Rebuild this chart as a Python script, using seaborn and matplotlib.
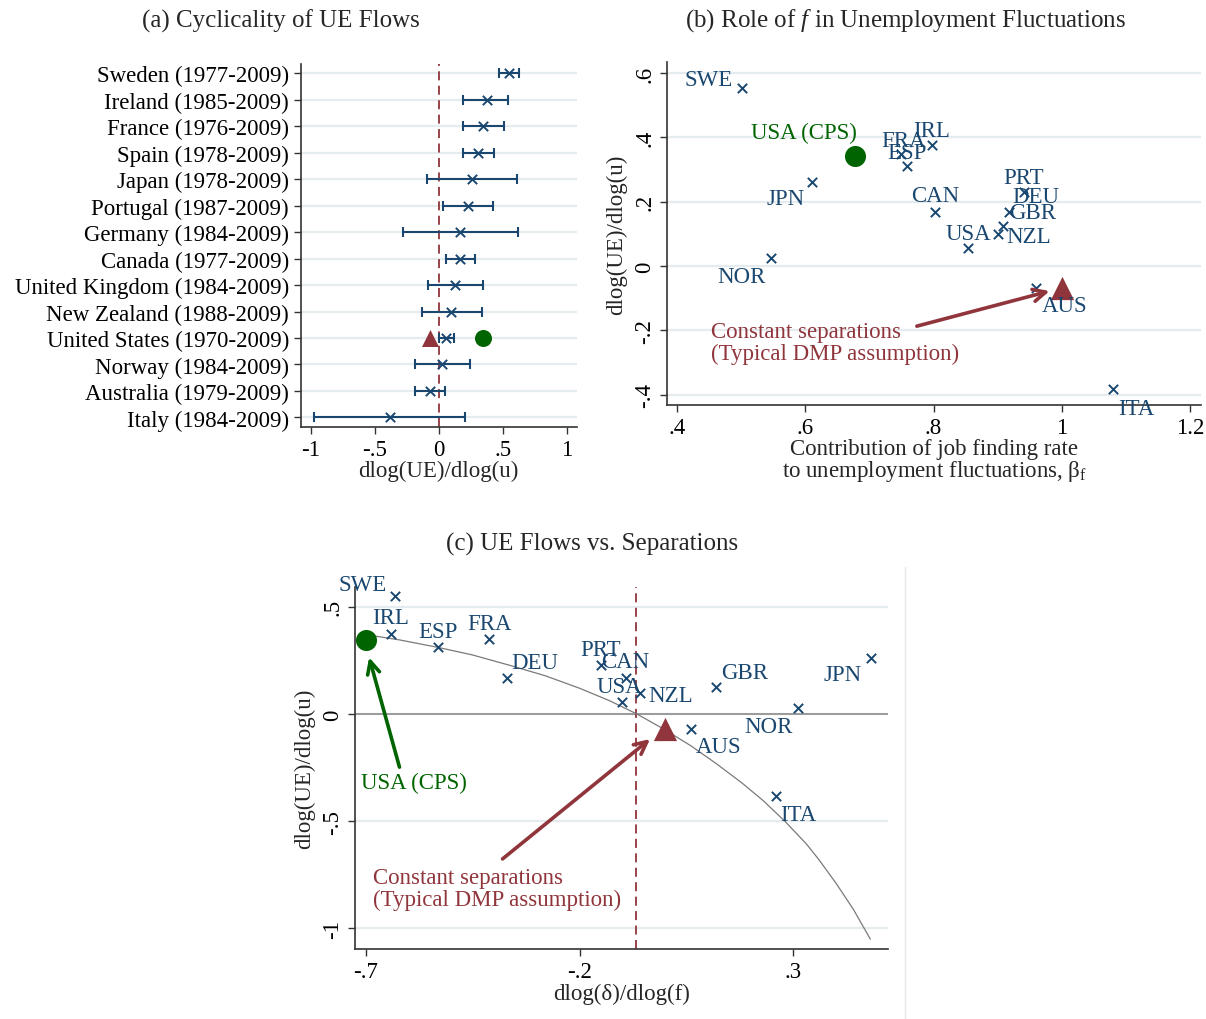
import numpy as np
import pandas as pd
import matplotlib
matplotlib.use("Agg")
import matplotlib.pyplot as plt
import seaborn as sns
from matplotlib.lines import Line2D

# ---------------- data ----------------
countries = ["Sweden (1977-2009)", "Ireland (1985-2009)", "France (1976-2009)",
             "Spain (1978-2009)", "Japan (1978-2009)", "Portugal (1987-2009)",
             "Germany (1984-2009)", "Canada (1977-2009)", "United Kingdom (1984-2009)",
             "New Zealand (1988-2009)", "United States (1970-2009)", "Norway (1984-2009)",
             "Australia (1979-2009)", "Italy (1984-2009)"]
codes = ["SWE", "IRL", "FRA", "ESP", "JPN", "PRT", "DEU", "CAN", "GBR", "NZL",
         "USA", "NOR", "AUS", "ITA"]
ue_coef = [0.552, 0.375, 0.349, 0.310, 0.260, 0.229, 0.169, 0.169, 0.125, 0.099,
           0.055, 0.026, -0.068, -0.383]
ci_low = [0.471, 0.193, 0.193, 0.193, -0.094, 0.031, -0.279, 0.055, -0.086, -0.133,
          0.000, -0.188, -0.188, -0.971]
ci_high = [0.630, 0.544, 0.508, 0.430, 0.615, 0.424, 0.622, 0.286, 0.349, 0.336,
           0.120, 0.245, 0.047, 0.208]
beta_f = [0.501, 0.797, 0.750, 0.758, 0.611, 0.941, 0.917, 0.803, 0.909, 0.901,
          0.854, 0.546, 0.959, 1.080]
dsep = [-0.631, -0.641, -0.411, -0.531, 0.482, -0.150, -0.370, -0.092, 0.120, -0.058,
        -0.101, 0.311, 0.061, 0.260]

usa_cps_ue = 0.343
usa_cps_beta = 0.677
usa_cps_dsep = -0.699
dmp_ue = -0.068
dmp_beta = 1.0
dmp_dsep = 0.0
dmp_vline = -0.068

curve_x = [-0.70, -0.62, -0.53, -0.45, -0.36, -0.28, -0.20, -0.13, -0.066, 0.0,
           0.06, 0.12, 0.18, 0.23, 0.28, 0.33, 0.36, 0.40, 0.44, 0.48]
curve_y = [0.370, 0.345, 0.310, 0.275, 0.225, 0.178, 0.120, 0.062, 0.0, -0.074,
           -0.148, -0.232, -0.322, -0.405, -0.500, -0.605, -0.680, -0.790, -0.910, -1.050]

xt_a = [-1, -0.5, 0, 0.5, 1]
xt_a_lab = ["-1", "-.5", "0", ".5", "1"]
xt_b = [0.4, 0.6, 0.8, 1.0, 1.2]
xt_b_lab = [".4", ".6", ".8", "1", "1.2"]
yt_b = [0.6, 0.4, 0.2, 0.0, -0.2, -0.4]
yt_b_lab = [".6", ".4", ".2", "0", "-.2", "-.4"]
xt_c = [-0.7, -0.2, 0.3]
xt_c_lab = ["-.7", "-.2", ".3"]
yt_c = [0.5, 0.0, -0.5, -1.0]
yt_c_lab = [".5", "0", "-.5", "-1"]

# ---------------- style ----------------
sns.set_theme(style="white")
plt.rcParams["font.family"] = ["Liberation Serif", "DejaVu Serif"]
plt.rcParams["mathtext.fontset"] = "custom"
plt.rcParams["mathtext.rm"] = "Liberation Serif"
plt.rcParams["mathtext.it"] = "Liberation Serif:italic"

NAVY = "#1a476f"
MAROON = "#90353b"
GREEN = "#006400"
GRID = "#e4ecef"
AXC = "#333333"
FS = 16.5
TFS = 18

# label offsets in pixels (dx, dy, ha)
off_b = {"SWE": (-9, 9, "right"), "IRL": (0, 15, "center"), "FRA": (2, 13, "center"),
         "ESP": (0, 14, "center"), "JPN": (-8, -16, "right"), "PRT": (0, 15, "center"),
         "DEU": (4, 15, "left"), "CAN": (0, 16, "center"), "GBR": (6, 13, "left"),
         "NZL": (8, -2, "left"), "USA": (0, 15, "center"), "NOR": (-5, -19, "right"),
         "AUS": (6, -18, "left"), "ITA": (5, -19, "left")}
off_c = {"SWE": (-8, 11, "right"), "IRL": (0, 16, "center"), "FRA": (0, 16, "center"),
         "ESP": (0, 16, "center"), "JPN": (-9, -16, "right"), "PRT": (0, 15, "center"),
         "DEU": (4, 15, "left"), "CAN": (0, 16, "center"), "GBR": (5, 15, "left"),
         "NZL": (8, -3, "left"), "USA": (-3, 16, "center"), "NOR": (-5, -18, "right"),
         "AUS": (5, -18, "left"), "ITA": (4, -18, "left")}

W, H = 1206, 1020
fig = plt.figure(figsize=(W / 100, H / 100), dpi=100)
fig.patch.set_facecolor("white")


def box(l, t, r, b):
    return [l / W, 1 - b / H, (r - l) / W, (b - t) / H]


def style_axes(ax):
    for s in ["top", "right"]:
        ax.spines[s].set_visible(False)
    for s in ["left", "bottom"]:
        ax.spines[s].set_color(AXC)
        ax.spines[s].set_linewidth(1.2)
    ax.tick_params(axis="both", direction="out", length=5, width=1, color=AXC,
                   labelsize=FS, labelcolor="black", left=True, bottom=True)
    ax.set_facecolor("white")


def px2pt(v):
    return v * 0.72


ARROW = "->,head_length=0.45,head_width=0.22"

# ---------------- panel (a) ----------------
ax1 = fig.add_axes(box(300.7, 65, 576.7, 427.7))
style_axes(ax1)
ypos = np.arange(len(countries))
dfa = pd.DataFrame({"coef": ue_coef, "pos": ypos})
for y in ypos:
    ax1.axhline(y, color=GRID, lw=1.6, zorder=0)
ax1.axvline(0, color=MAROON, lw=1.3, ls=(0, (5, 3)), zorder=1)
lo = np.array(ue_coef) - np.array(ci_low)
hi = np.array(ci_high) - np.array(ue_coef)
ax1.errorbar(ue_coef, ypos, xerr=[lo, hi], fmt="none", ecolor=NAVY, elinewidth=1.5,
             capsize=3.6, capthick=1.5, zorder=2)
sns.scatterplot(data=dfa, x="coef", y="pos", marker="x", color=NAVY, s=45,
                linewidth=1.4, ax=ax1, zorder=3, legend=False)
us_i = countries.index("United States (1970-2009)")
ax1.scatter([dmp_ue], [us_i], marker="^", s=150, color=MAROON, zorder=4, linewidths=0)
ax1.scatter([usa_cps_ue], [us_i], marker="o", s=150, color=GREEN, zorder=4, linewidths=0)
ax1.set_xlim(-1.078, 1.078)
ax1.set_ylim(13.35, -0.35)
ax1.set_yticks(ypos)
ax1.set_yticklabels(countries)
ax1.set_xticks(xt_a)
ax1.set_xticklabels(xt_a_lab)
ax1.set_xlabel("dlog(UE)/dlog(u)", fontsize=FS, labelpad=0)
ax1.set_ylabel("")
fig.text(280.5 / W, 1 - 21 / H, "(a) Cyclicality of UE Flows", fontsize=TFS,
         ha="center", va="center")

# ---------------- panel (b) ----------------
ax2 = fig.add_axes(box(667.3, 63, 1201, 406))
style_axes(ax2)
for y in yt_b:
    ax2.axhline(y, color=GRID, lw=1.6, zorder=0)
dfb = pd.DataFrame({"beta": beta_f, "ue": ue_coef, "code": codes})
sns.scatterplot(data=dfb, x="beta", y="ue", marker="x", color=NAVY, s=45,
                linewidth=1.4, ax=ax2, zorder=3, legend=False)
ax2.scatter([usa_cps_beta], [usa_cps_ue], marker="o", s=230, color=GREEN, zorder=4,
            linewidths=0)
ax2.scatter([dmp_beta], [dmp_ue], marker="^", s=280, color=MAROON, zorder=4, linewidths=0)
for c, xv, yv in zip(codes, beta_f, ue_coef):
    dx, dy, ha = off_b[c]
    ax2.annotate(c, (xv, yv), xytext=(px2pt(dx), px2pt(dy)), textcoords="offset points",
                 ha=ha, va="center", fontsize=FS, color=NAVY, zorder=5)
ax2.annotate("USA (CPS)", (usa_cps_beta, usa_cps_ue), xytext=(px2pt(2), px2pt(23)),
             textcoords="offset points", ha="right", va="center", fontsize=FS, color=GREEN)
ax2.text(0.453, -0.170, "Constant separations\n(Typical DMP assumption)", fontsize=FS,
         color=MAROON, ha="left", va="top", linespacing=1.05)
ax2.annotate("", xy=(0.981, -0.078), xytext=(0.774, -0.187),
             arrowprops=dict(arrowstyle=ARROW, color=MAROON,
                             lw=2.6, shrinkA=0, shrinkB=0, mutation_scale=20))
ax2.set_xlim(0.385, 1.217)
ax2.set_ylim(-0.432, 0.634)
ax2.set_xticks(xt_b)
ax2.set_xticklabels(xt_b_lab)
ax2.set_yticks(yt_b)
ax2.set_yticklabels(yt_b_lab)
for lab in ax2.get_yticklabels():
    lab.set_rotation(90)
    lab.set_va("center")
ax2.set_xlabel("Contribution of job finding rate\nto unemployment fluctuations, β$_{\\mathrm{f}}$",
               fontsize=FS, labelpad=0, linespacing=0.95)
ax2.set_ylabel("dlog(UE)/dlog(u)", fontsize=FS, labelpad=5)
fig.text(906 / W, 1 - 21 / H, "(b) Role of $f$ in Unemployment Fluctuations", fontsize=TFS,
         ha="center", va="center")

# ---------------- panel (c) ----------------
ax3 = fig.add_axes(box(355, 588, 888.3, 950))
style_axes(ax3)
for y in yt_c:
    ax3.axhline(y, color=GRID, lw=1.6, zorder=0)
ax3.axhline(0, color="#9a9a9a", lw=1.4, zorder=1)
ax3.axvline(dmp_vline, color=MAROON, lw=1.3, ls=(0, (5, 3)), zorder=1)
dfc_curve = pd.DataFrame({"x": curve_x, "y": curve_y})
sns.lineplot(data=dfc_curve, x="x", y="y", sort=False, estimator=None, color="#7a7a7a",
             lw=0.9, ax=ax3, zorder=2)
dfc = pd.DataFrame({"dsep": dsep, "ue": ue_coef, "code": codes})
sns.scatterplot(data=dfc, x="dsep", y="ue", marker="x", color=NAVY, s=45,
                linewidth=1.4, ax=ax3, zorder=3, legend=False)
ax3.scatter([usa_cps_dsep], [usa_cps_ue], marker="o", s=230, color=GREEN, zorder=4,
            linewidths=0, clip_on=False)
ax3.scatter([dmp_dsep], [dmp_ue], marker="^", s=280, color=MAROON, zorder=4, linewidths=0)
for c, xv, yv in zip(codes, dsep, ue_coef):
    dx, dy, ha = off_c[c]
    ax3.annotate(c, (xv, yv), xytext=(px2pt(dx), px2pt(dy)), textcoords="offset points",
                 ha=ha, va="center", fontsize=FS, color=NAVY, zorder=5, annotation_clip=False)
ax3.annotate("", xy=(-0.692, 0.264), xytext=(-0.621, -0.248),
             arrowprops=dict(arrowstyle=ARROW, color=GREEN,
                             lw=2.6, shrinkA=0, shrinkB=0, mutation_scale=20))
ax3.text(-0.712, -0.318, "USA (CPS)", fontsize=FS, color=GREEN, ha="left", va="center")
ax3.annotate("", xy=(-0.035, -0.117), xytext=(-0.380, -0.676),
             arrowprops=dict(arrowstyle=ARROW, color=MAROON,
                             lw=2.6, shrinkA=0, shrinkB=0, mutation_scale=20))
ax3.text(-0.682, -0.712, "Constant separations\n(Typical DMP assumption)", fontsize=FS,
         color=MAROON, ha="left", va="top", linespacing=1.05)
ax3.set_xlim(-0.725, 0.522)
ax3.set_ylim(-1.096, 0.592)
ax3.set_xticks(xt_c)
ax3.set_xticklabels(xt_c_lab)
ax3.set_yticks(yt_c)
ax3.set_yticklabels(yt_c_lab)
for lab in ax3.get_yticklabels():
    lab.set_rotation(90)
    lab.set_va("center")
ax3.set_xlabel("dlog(δ)/dlog(f)", fontsize=FS, labelpad=1)
ax3.set_ylabel("dlog(UE)/dlog(u)", fontsize=FS, labelpad=5)
fig.text(592 / W, 1 - 544 / H, "(c) UE Flows vs. Separations", fontsize=TFS,
         ha="center", va="center")

fig.add_artist(Line2D([905 / W, 905 / W], [0, 1 - 568 / H], color="#e6e6e6", lw=1.0))

fig.savefig("out.png", dpi=100, facecolor="white")
